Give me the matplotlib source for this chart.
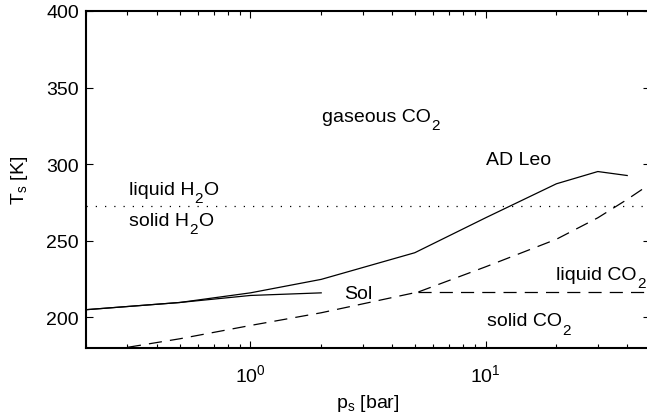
import numpy as np
import matplotlib
matplotlib.use("Agg")
import matplotlib.pyplot as plt

plt.rcParams['font.family'] = ['Liberation Sans', 'DejaVu Sans']
plt.rcParams['mathtext.fontset'] = 'custom'
plt.rcParams['mathtext.rm'] = 'Liberation Sans'
plt.rcParams['mathtext.it'] = 'Liberation Sans'
plt.rcParams['font.size'] = 14

# surface temperature vs surface pressure
p_adleo = [0.2, 0.5, 1, 2, 5, 10, 20, 30, 40]
T_adleo = [205, 209.7, 216, 224.8, 242.2, 265, 287.2, 295.2, 292.6]

p_sol = [0.2, 0.5, 1, 2]
T_sol = [205, 209.7, 214.3, 216]

# CO2 phase boundaries
p_subl = [0.2, 0.5, 1, 2, 5.18]
T_subl = [176, 186, 194.7, 203, 216.6]
p_vap = [5.18, 10, 20, 30, 40, 50]
T_vap = [216.6, 233, 251, 265, 277, 287]
p_melt = [5.18, 50]
T_melt = [216.6, 216.6]

# water freezing point
p_h2o = [0.2, 50]
T_h2o = [273, 273]

fig = plt.figure(figsize=(6.47, 4.14), dpi=100)
ax = fig.add_axes([86 / 647, 65 / 414, 564 / 647, 337 / 414])

ax.plot(p_adleo, T_adleo, 'k-', lw=0.9)
ax.plot(p_sol, T_sol, 'k-', lw=0.9)
ax.plot(p_subl, T_subl, 'k--', lw=0.9, dashes=(10.5, 6.5))
ax.plot(p_vap, T_vap, 'k--', lw=0.9, dashes=(10.5, 6.5))
ax.plot(p_melt, T_melt, 'k--', lw=0.9, dashes=(10.5, 6.5))
ax.plot(p_h2o, T_h2o, 'k:', lw=0.9, dashes=(1, 6.4))

ax.set_xscale('log')
ax.set_xlim(0.2, 50)
ax.set_ylim(180, 400)
ax.set_yticks([200, 250, 300, 350, 400])

ax.tick_params(which='both', direction='in', top=True, right=True)
ax.tick_params(which='major', length=5, width=0.8)
ax.tick_params(which='minor', length=3, width=0.8)
ax.tick_params(axis='x', which='both', pad=11)
ax.tick_params(axis='y', which='both', pad=5)
for s in ax.spines.values():
    s.set_linewidth(1.5)

ax.set_xlabel('p$_\\mathrm{s}$ [bar]', labelpad=5)
ax.set_ylabel('T$_\\mathrm{s}$ [K]', labelpad=12)


def label(x, y, parts):
    # matlab-style text: subscripts nearly full size and dropped well below
    prev = ax.text(x, y, parts[0][0], va='baseline')
    for s, sub in parts[1:]:
        prev = ax.annotate(s, xy=(1, y), xycoords=(prev, 'data'),
                           xytext=(0.3, -6 if sub else 0), textcoords='offset points',
                           va='baseline', ha='left', fontsize=11 if sub else 14)


label(2.02, 328.5, [('gaseous CO', 0), ('2', 1)])
label(10, 300.2, [('AD Leo', 0)])
label(0.304, 280.7, [('liquid H', 0), ('2', 1), ('O', 0)])
label(0.304, 260.4, [('solid H', 0), ('2', 1), ('O', 0)])
label(2.5, 212.8, [('Sol', 0)])
label(20, 225.2, [('liquid CO', 0), ('2', 1)])
label(10.1, 194.8, [('solid CO', 0), ('2', 1)])

fig.savefig('out.png', dpi=100)
